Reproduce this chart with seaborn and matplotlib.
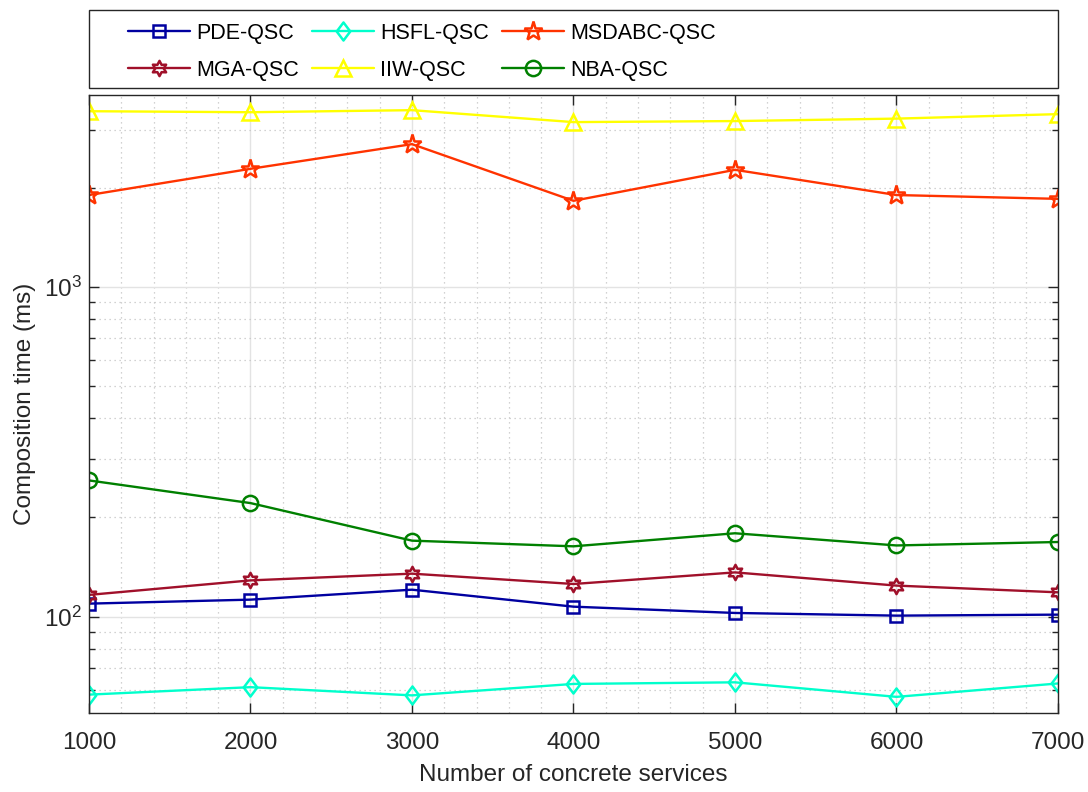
import pandas as pd
import matplotlib
matplotlib.use("Agg")
import matplotlib.pyplot as plt
from matplotlib.path import Path
from matplotlib.patches import Rectangle
from matplotlib.ticker import MultipleLocator, LogLocator, NullFormatter
import seaborn as sns

# dados (tempo de composição em ms)
servicos = [1000, 2000, 3000, 4000, 5000, 6000, 7000]
pde_qsc = [109.5, 112.6, 120.7, 107.2, 102.6, 100.7, 101.4]
hsfl_qsc = [58.0, 61.1, 57.7, 62.5, 63.2, 57.1, 62.7]
msdabc_qsc = [1900, 2282, 2711, 1825, 2266, 1900, 1850]
mga_qsc = [116.4, 128.8, 135.0, 125.6, 136.2, 124.2, 118.5]
iiw_qsc = [3412, 3388, 3437, 3162, 3185, 3240, 3343]
nba_qsc = [258.9, 221.0, 170.0, 163.4, 179.0, 164.4, 168.4]

sns.set_theme(style="ticks")
plt.rcParams["font.family"] = ["Liberation Sans", "DejaVu Sans"]
plt.rcParams["mathtext.default"] = "regular"
cinza = "#262626"

# marcadores estilo MATLAB
hexagrama = Path.unit_regular_star(6, 0.55)
losango = Path([(0, 1), (0.75, 0), (0, -1), (-0.75, 0), (0, 1)],
               [Path.MOVETO, Path.LINETO, Path.LINETO, Path.LINETO, Path.CLOSEPOLY])

series = [
    ("PDE-QSC", pde_qsc, "#0000A0", "s", 8.5),
    ("HSFL-QSC", hsfl_qsc, "#00FFCC", losango, 13),
    ("MSDABC-QSC", msdabc_qsc, "#FF3300", "*", 14),
    ("MGA-QSC", mga_qsc, "#A0102A", hexagrama, 11),
    ("IIW-QSC", iiw_qsc, "#FFFF00", "^", 11),
    ("NBA-QSC", nba_qsc, "#008000", "o", 11),
]

fig = plt.figure(figsize=(10.88, 7.92), dpi=100)
ax = fig.add_axes([0.0818, 0.0997, 0.8906, 0.7803])

for nome, valores, cor, marc, tam in series:
    df = pd.DataFrame({"x": servicos, "y": valores})
    sns.lineplot(data=df, x="x", y="y", ax=ax, color=cor, linewidth=1.7,
                 marker=marc, markersize=tam, markerfacecolor="none",
                 markeredgecolor=cor, markeredgewidth=1.8, label=nome)

ax.set_yscale("log")
ax.set_xlim(1000, 7000)
ax.set_ylim(51, 3820)
ax.xaxis.set_major_locator(MultipleLocator(1000))
ax.xaxis.set_minor_locator(MultipleLocator(200))
ax.yaxis.set_major_locator(LogLocator(base=10))
ax.yaxis.set_minor_locator(LogLocator(base=10, subs=range(2, 10)))
ax.yaxis.set_minor_formatter(NullFormatter())

ax.grid(which="major", color="#e3e3e3", linestyle="-", linewidth=1.0)
ax.grid(which="minor", color="#c4c4c4", linestyle=(0, (1, 3)), linewidth=0.9)
ax.set_axisbelow(True)

ax.tick_params(which="both", direction="in", top=True, right=True,
               colors=cinza, labelsize=17.5, width=1)
ax.tick_params(which="major", length=7)
ax.tick_params(axis="x", which="major", pad=14)
ax.tick_params(axis="y", which="major", pad=5)
ax.tick_params(axis="y", which="minor", length=4)
ax.tick_params(axis="x", which="minor", length=0)
for s in ax.spines.values():
    s.set_color(cinza)
    s.set_linewidth(1.0)

ax.set_xlabel("Number of concrete services", fontsize=17.5, color=cinza, labelpad=7)
ax.set_ylabel("Composition time (ms)", fontsize=17.5, color=cinza, labelpad=6)

# legenda com caixa própria acima dos eixos
h, l = ax.get_legend_handles_labels()
ax.get_legend().remove()
ordem = [0, 3, 1, 4, 2, 5]
fig.patches.append(Rectangle((0.0818, 0.889), 0.8906, 0.098, transform=fig.transFigure,
                             facecolor="white", edgecolor=cinza, linewidth=1.0))
fig.legend([h[i] for i in ordem], [l[i] for i in ordem], ncol=3, frameon=False,
           loc="upper left", bbox_to_anchor=(0.1015, 0.993), fontsize=15.5,
           handlelength=2.9, handletextpad=0.28, columnspacing=0.6, labelspacing=0.75,
           labelcolor="black", borderpad=0.3)

fig.savefig("out.png", dpi=100)
